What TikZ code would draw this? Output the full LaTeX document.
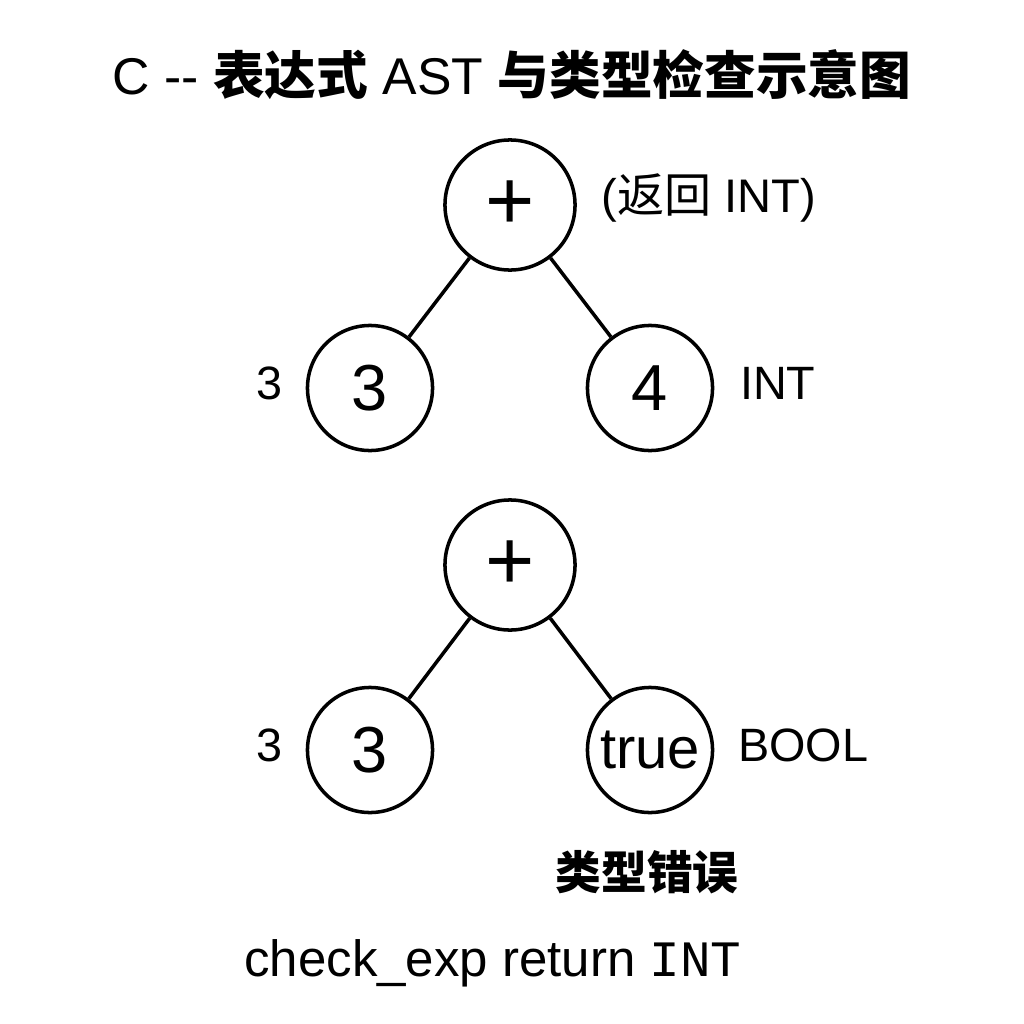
\documentclass[tikz,border=0pt]{standalone}
\usepackage{fontspec}
\setmainfont{Liberation Sans}
\newfontfamily\cjk{Noto Sans CJK SC}
\newfontfamily\monofnt{Liberation Mono}
\usetikzlibrary{positioning}
\tikzset{every picture/.style={line width=1pt}}
\tikzset{astnode/.style={draw,circle,minimum size=1.25cm,inner sep=0pt,font=\fontsize{18.5}{20}\selectfont}}
\tikzset{rootnode/.style={astnode,minimum size=1.3cm,font=\fontsize{24}{26}\selectfont}}
\tikzset{typelabel/.style={inner sep=0pt,font=\fontsize{13.3}{16}\selectfont}}

\begin{document}
\begin{tikzpicture}[x=0.01cm,y=-0.01cm]
      \useasboundingbox (0,0) rectangle (1024,1024);
      \node[font=\fontsize{14.7}{18}\selectfont] (title) at (512,75)
        {C -{}- {\cjk\bfseries 表达式} AST {\cjk\bfseries 与类型检查示意图}};
      % well-typed expression
      \node[rootnode] (plusa) at (510,205) {+};
      \node[astnode] (lefta) at (370,388) {3};
      \node[astnode] (righta) at (650,388) {4};
      \draw (plusa) -- (lefta);
      \draw (plusa) -- (righta);
      \node[typelabel,font=\fontsize{13.4}{16}\selectfont,right=0.23cm of plusa,yshift=0.07cm] (reta) {({\cjk 返回} INT)};
      \node[typelabel,left=0.21cm of lefta,yshift=0.05cm] (tya) {3};
      \node[typelabel,right=0.24cm of righta,yshift=0.05cm] (tyb) {INT};
      % ill-typed expression
      \node[rootnode] (plusb) at (510,565) {+};
      \node[astnode] (leftb) at (370,750) {3};
      \node[astnode,font=\fontsize{16.5}{18}\selectfont] (rightb) at (650,750) {true};
      \draw (plusb) -- (leftb);
      \draw (plusb) -- (rightb);
      \node[typelabel,left=0.21cm of leftb,yshift=0.05cm] (tyc) {3};
      \node[typelabel,right=0.22cm of rightb,yshift=0.05cm] (tyd) {BOOL};
      \node[typelabel,font=\fontsize{13}{16}\selectfont\cjk\bfseries] (err) at (647,872) {类型错误};
      \node[typelabel,font=\fontsize{14.5}{17}\selectfont] (ret) at (493,963) {check\_exp return {\monofnt INT}};
\end{tikzpicture}
\end{document}
